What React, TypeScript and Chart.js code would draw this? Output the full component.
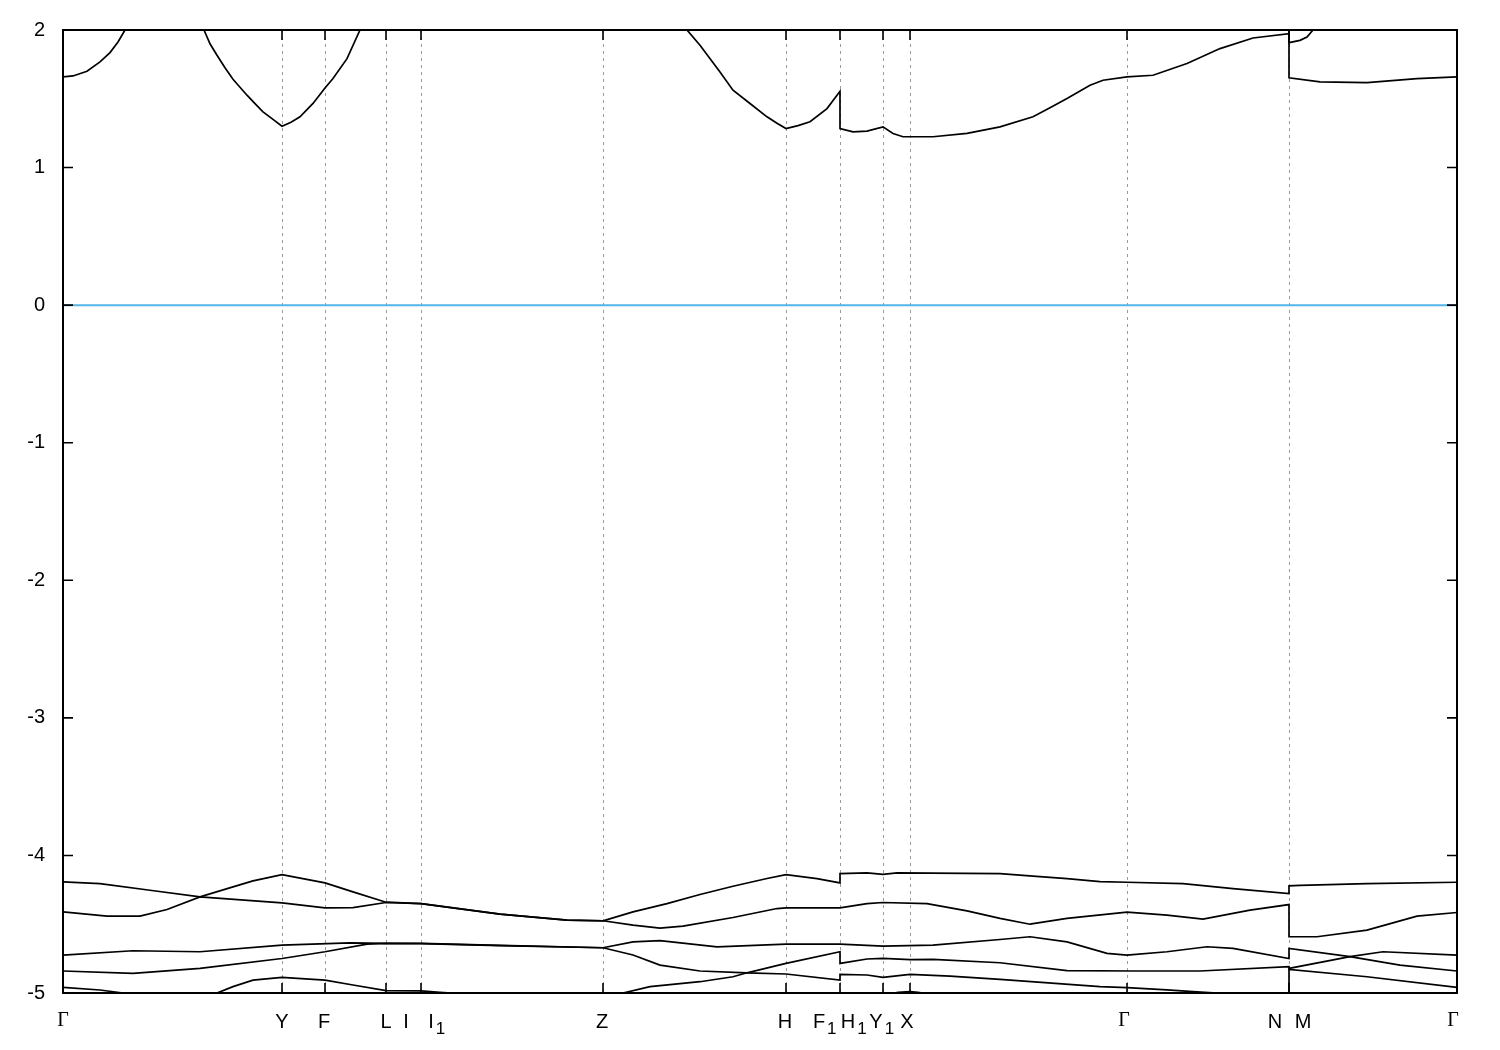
import React, { useEffect, useRef } from "react";
import { Chart, registerables } from "chart.js";

Chart.register(...registerables);

type P = [number, number];

// k-path range
const K_MIN = 0;
const K_MAX = 13.94;

// high-symmetry points on the path (dashed lines + ticks)
const symPointsK = [0, 2.19, 2.62, 3.23, 3.58, 5.4, 7.23, 7.77, 8.2, 8.47, 10.64, 12.26, 13.94];

// x-axis labels (main glyph, subscript, position of main glyph centre)
const kLabels = ["Γ", "Y", "F", "L", "I", "I", "Z", "H", "F", "H", "Y", "X", "Γ", "N", "M", "Γ"];
const kLabelSubs = ["", "", "", "", "", "1", "", "", "1", "1", "1", "", "", "", "", ""];
const kLabelPos = [0, 2.19, 2.61, 3.23, 3.43, 3.68, 5.39, 7.22, 7.56, 7.85, 8.13, 8.44, 10.61, 12.12, 12.4, 13.9];

// energy axis
const E_MIN = -5;
const E_MAX = 2;
const yTickValues = [-5, -4, -3, -2, -1, 0, 1, 2];

// conduction bands
const bandC1: P[] = [
  [0, 1.659], [0.1, 1.666], [0.24, 1.7], [0.37, 1.768], [0.47, 1.836], [0.55, 1.913], [0.62, 2.0],
  [0.8, 2.25], [1.0, 2.38], [1.2, 2.3], [1.41, 2.0], [1.47, 1.9], [1.54, 1.816], [1.62, 1.725], [1.7, 1.642],
  [1.84, 1.526], [1.92, 1.465], [2.0, 1.405], [2.1, 1.35], [2.19, 1.301], [2.28, 1.33], [2.37, 1.369],
  [2.5, 1.466], [2.62, 1.579], [2.7, 1.647], [2.84, 1.792], [2.97, 2.0], [3.23, 2.45], [3.58, 2.75],
  [4.5, 3.0], [5.4, 2.95], [5.9, 2.4], [6.24, 2.0], [6.37, 1.889], [6.57, 1.695], [6.7, 1.562],
  [6.87, 1.466], [7.04, 1.369], [7.14, 1.322], [7.23, 1.284], [7.35, 1.305], [7.47, 1.333],
  [7.64, 1.429], [7.77, 1.555], [7.77, 1.284], [7.9, 1.26], [8.04, 1.265], [8.2, 1.296], [8.3, 1.248],
  [8.4, 1.224], [8.7, 1.224], [9.04, 1.248], [9.37, 1.296], [9.7, 1.369], [9.87, 1.434], [10.04, 1.502],
  [10.27, 1.599], [10.4, 1.635], [10.64, 1.659], [10.9, 1.671], [11.24, 1.756], [11.57, 1.865],
  [11.9, 1.942], [12.26, 1.973], [12.26, 1.652], [12.57, 1.623], [13.04, 1.618], [13.54, 1.647],
  [13.94, 1.659],
];
const bandC2: P[] = [
  [10.64, 2.7], [12.26, 2.3], [12.26, 1.908], [12.37, 1.925], [12.44, 1.949], [12.5, 2.0],
  [12.6, 2.1], [12.8, 2.25], [13.94, 2.6],
];

// valence bands
const bandV1: P[] = [
  [0, -4.192], [0.37, -4.205], [0.87, -4.253], [1.37, -4.301], [1.7, -4.229], [1.9, -4.185],
  [2.19, -4.139], [2.62, -4.2], [2.9, -4.265], [3.23, -4.34], [3.58, -4.35], [4.37, -4.427],
  [5.04, -4.47], [5.4, -4.475], [5.7, -4.41], [6.04, -4.35], [6.37, -4.284], [6.7, -4.224],
  [7.04, -4.168], [7.23, -4.139], [7.54, -4.168], [7.77, -4.2], [7.77, -4.132], [8.04, -4.127],
  [8.2, -4.137], [8.34, -4.127], [9.37, -4.132], [9.7, -4.151], [10.04, -4.168], [10.37, -4.19],
  [10.64, -4.195], [11.2, -4.205], [11.7, -4.241], [12.26, -4.277], [12.26, -4.221],
  [12.37, -4.217], [13.04, -4.205], [13.94, -4.195],
];
const bandV2: P[] = [
  [0, -4.41], [0.44, -4.441], [0.77, -4.441], [1.04, -4.393], [1.37, -4.301], [2.19, -4.345],
  [2.62, -4.381], [2.9, -4.379], [3.23, -4.342], [3.58, -4.35], [4.37, -4.427], [5.04, -4.47],
  [5.4, -4.475], [5.7, -4.507], [5.97, -4.529], [6.2, -4.514], [6.7, -4.451], [7.14, -4.386],
  [7.23, -4.381], [7.77, -4.381], [8.04, -4.35], [8.2, -4.342], [8.64, -4.35], [9.04, -4.403],
  [9.37, -4.458], [9.67, -4.5], [10.04, -4.458], [10.64, -4.412], [11.04, -4.434], [11.4, -4.463],
  [11.87, -4.398], [12.26, -4.357], [12.26, -4.591], [12.54, -4.591], [13.04, -4.543],
  [13.54, -4.441], [13.94, -4.415],
];
const bandV3: P[] = [
  [0, -4.724], [0.7, -4.693], [1.37, -4.7], [2.19, -4.652], [2.87, -4.635], [3.23, -4.64],
  [3.58, -4.64], [4.37, -4.654], [5.4, -4.671], [5.7, -4.628], [5.97, -4.62], [6.54, -4.664],
  [7.23, -4.645], [7.77, -4.645], [8.2, -4.659], [8.7, -4.652], [9.37, -4.611], [9.67, -4.591],
  [10.04, -4.628], [10.44, -4.712], [10.64, -4.724], [11.04, -4.7], [11.44, -4.664], [11.7, -4.676],
  [12.26, -4.749], [12.26, -4.676], [12.87, -4.736], [13.2, -4.7], [13.94, -4.724],
];
const bandV4: P[] = [
  [0, -4.84], [0.7, -4.857], [1.37, -4.821], [2.19, -4.749], [2.62, -4.7], [3.04, -4.645],
  [3.23, -4.64], [3.58, -4.641], [4.37, -4.655], [5.4, -4.671], [5.7, -4.724], [5.97, -4.797],
  [6.37, -4.84], [6.84, -4.853], [7.23, -4.785], [7.77, -4.7], [7.77, -4.785], [8.04, -4.753],
  [8.2, -4.749], [8.47, -4.757], [8.7, -4.756], [9.37, -4.78], [10.04, -4.838], [10.7, -4.84],
  [11.37, -4.84], [12.26, -4.809], [12.26, -4.821], [12.87, -4.736], [13.37, -4.797], [13.94, -4.84],
];
const bandV5: P[] = [
  [0, -4.959], [0.37, -4.978], [0.6, -5.0], [0.9, -5.05], [1.25, -5.05], [1.54, -5.0],
  [1.7, -4.954], [1.9, -4.906], [2.19, -4.886], [2.62, -4.906], [2.9, -4.942], [3.23, -4.983],
  [3.58, -4.985], [3.77, -4.995], [4.5, -5.03], [5.4, -5.05], [5.6, -5.0], [5.87, -4.954],
  [6.37, -4.918], [6.7, -4.882], [6.84, -4.853], [7.23, -4.862], [7.77, -4.906], [7.77, -4.865],
  [8.04, -4.869], [8.2, -4.886], [8.47, -4.865], [8.87, -4.877], [9.37, -4.901], [10.37, -4.954],
  [10.64, -4.961], [11.04, -4.978], [11.3, -4.99], [11.54, -5.0], [12.0, -5.03], [12.26, -5.04],
  [12.26, -4.828], [13.04, -4.882], [13.94, -4.959],
];
const bandV6: P[] = [
  [7.77, -5.08], [8.2, -5.02], [8.35, -4.995], [8.47, -4.99], [8.55, -4.995], [8.75, -5.02], [9.37, -5.06],
];

// Fermi level
const fermiLine: P[] = [[K_MIN, 0], [K_MAX, 0]];

const bands = [bandC1, bandC2, bandV1, bandV2, bandV3, bandV4, bandV5, bandV6];

const SANS = "'Liberation Sans', Arial, Helvetica, sans-serif";
const SERIF = "'Liberation Serif', 'Times New Roman', serif";

const bandFramePlugin = {
  id: "bandFrame",
  beforeDatasetsDraw(chart: any) {
    const { ctx, chartArea: a } = chart;
    const xs = chart.scales.x;
    ctx.save();
    ctx.strokeStyle = "#9a9a9a";
    ctx.lineWidth = 1;
    ctx.setLineDash([3, 4]);
    for (const k of symPointsK) {
      if (k <= K_MIN || k >= K_MAX) continue;
      const px = Math.round(xs.getPixelForValue(k)) + 0.5;
      ctx.beginPath();
      ctx.moveTo(px, a.top);
      ctx.lineTo(px, a.bottom);
      ctx.stroke();
    }
    ctx.restore();
  },
  afterDatasetsDraw(chart: any) {
    const { ctx, chartArea: a } = chart;
    const xs = chart.scales.x;
    const ys = chart.scales.y;
    ctx.save();
    ctx.setLineDash([]);
    ctx.strokeStyle = "#000";
    ctx.lineWidth = 1.6;
    const tl = 10;
    for (const v of yTickValues) {
      const py = ys.getPixelForValue(v);
      ctx.beginPath();
      ctx.moveTo(a.left, py);
      ctx.lineTo(a.left + tl, py);
      ctx.moveTo(a.right, py);
      ctx.lineTo(a.right - tl, py);
      ctx.stroke();
    }
    for (const k of symPointsK) {
      const px = xs.getPixelForValue(k);
      ctx.beginPath();
      ctx.moveTo(px, a.top);
      ctx.lineTo(px, a.top + tl);
      ctx.moveTo(px, a.bottom);
      ctx.lineTo(px, a.bottom - tl);
      ctx.stroke();
    }
    ctx.lineWidth = 2;
    ctx.strokeRect(a.left, a.top, a.right - a.left, a.bottom - a.top);

    // x labels
    ctx.fillStyle = "#000";
    ctx.textBaseline = "alphabetic";
    const base = a.bottom + 34.5;
    kLabels.forEach((txt, i) => {
      const px = xs.getPixelForValue(kLabelPos[i]);
      const isGamma = txt === "Γ";
      ctx.font = isGamma ? `20px ${SERIF}` : `20px ${SANS}`;
      const w = ctx.measureText(txt).width;
      ctx.textAlign = "left";
      ctx.fillText(txt, px - w / 2, isGamma ? base - 1.5 : base);
      const sub = kLabelSubs[i];
      if (sub) {
        ctx.font = `17px ${SANS}`;
        ctx.fillText(sub, px + w / 2 + 2, base + 6);
      }
    });
    ctx.restore();
  },
};

export default function App() {
  const ref = useRef<HTMLCanvasElement>(null);
  useEffect(() => {
    const canvas = ref.current;
    if (!canvas) return;
    const toXY = (b: P[]) => b.map(([x, y]) => ({ x, y }));
    const bandDatasets = bands.map((b) => ({
      data: toXY(b),
      borderColor: "#000",
      backgroundColor: "#000",
      borderWidth: 1.7,
      pointRadius: 0,
      showLine: true,
      tension: 0,
      fill: false,
      clip: 0,
    }));
    const chart = new Chart(canvas, {
      type: "scatter",
      data: {
        datasets: [
          ...bandDatasets,
          {
            data: toXY(fermiLine),
            borderColor: "#56b4e9",
            backgroundColor: "#56b4e9",
            borderWidth: 2,
            pointRadius: 0,
            showLine: true,
            fill: false,
            clip: 0,
          },
        ],
      } as any,
      options: {
        animation: false,
        responsive: false,
        events: [],
        layout: { padding: { left: 0, right: 43, top: 28, bottom: 0 } },
        plugins: { legend: { display: false }, tooltip: { enabled: false } },
        scales: {
          x: {
            type: "linear",
            min: K_MIN,
            max: K_MAX,
            grid: { display: false, drawTicks: false },
            border: { display: false },
            ticks: { display: false },
            afterFit(s: any) {
              s.height = 57;
            },
          },
          y: {
            type: "linear",
            min: E_MIN,
            max: E_MAX,
            grid: { display: false, drawTicks: false },
            border: { display: false },
            ticks: {
              stepSize: 1,
              color: "#000",
              padding: 18,
              font: { family: SANS, size: 20 },
              callback: (v: any) => String(v),
            },
            afterFit(s: any) {
              s.width = 63;
            },
          },
        },
      } as any,
      plugins: [bandFramePlugin],
    });
    return () => chart.destroy();
  }, []);
  return (
    <canvas
      ref={ref}
      width={1500}
      height={1050}
      style={{ position: "fixed", left: 0, top: 0, display: "block", background: "#fff" }}
    />
  );
}
